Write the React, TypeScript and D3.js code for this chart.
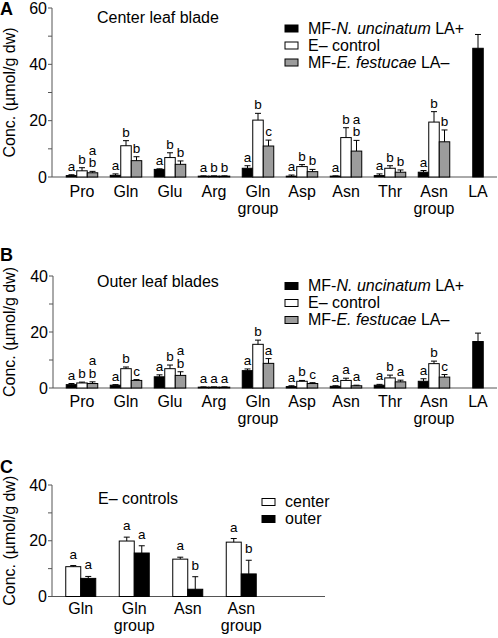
import React from "react";
import * as d3 from "d3";

const FONT = "'Liberation Sans', Arial, Helvetica, sans-serif";
const GRAY = "#9c9c9c";
const AXIS = "#555";

// ---------- data ----------
const aminoCategories = ["Pro", "Gln", "Glu", "Arg", "Gln group", "Asp", "Asn", "Thr", "Asn group", "LA"];
const legendLabels = ["MF-N. uncinatum LA+", "E– control", "MF-E. festucae LA–"];

// Panel A – center leaf blade
const aNunc = [0.5, 0.6, 2.7, 0.3, 3.1, 0.3, 0.3, 0.5, 1.7, 45.7];
const aNuncErr = [0.3, 0.5, 0.2, 0.1, 0.9, 0.4, 0.1, 0.6, 0.6, 4.9];
const aCtrl = [2.2, 11.1, 6.9, 0.3, 20.2, 3.7, 14.0, 3.1, 19.5, null];
const aCtrlErr = [1.1, 1.8, 1.7, 0.1, 2.4, 0.7, 3.5, 0.9, 3.7, null];
const aFest = [1.5, 5.8, 4.5, 0.3, 11.0, 1.9, 9.2, 1.7, 12.5, null];
const aFestErr = [0.5, 1.4, 1.2, 0.1, 2.1, 0.8, 3.8, 0.8, 4.2, null];
const aNuncLetters = ["a", "a", "a", "a", "a", "a", "a", "a", "a", ""];
const aCtrlLetters = ["b", "b", "b", "b", "b", "b", "b", "b", "b", ""];
const aFestLetters = ["a b", "b", "b", "b", "c", "b", "a b", "b", "b", ""];

// Panel B – outer leaf blades
const bNunc = [1.2, 1.0, 4.0, 0.3, 6.2, 0.5, 0.6, 1.0, 2.4, 16.6];
const bNuncErr = [0.4, 0.2, 0.7, 0.1, 0.6, 0.3, 0.2, 0.3, 0.9, 3.0];
const bCtrl = [1.8, 6.9, 6.9, 0.3, 15.6, 2.4, 2.7, 3.6, 8.7, null];
const bCtrlErr = [0.3, 0.6, 1.3, 0.1, 1.5, 0.3, 0.8, 1.0, 0.9, null];
const bFest = [1.6, 2.7, 4.5, 0.3, 8.8, 1.6, 0.8, 2.2, 3.9, null];
const bFestErr = [0.6, 0.3, 1.3, 0.1, 1.7, 0.3, 0.2, 0.6, 0.9, null];
const bNuncLetters = ["a", "a", "a", "a", "a", "a", "a", "a", "a", ""];
const bCtrlLetters = ["b", "b", "b", "a", "b", "b", "a", "b", "b", ""];
const bFestLetters = ["a b", "c", "a b", "a", "a", "c", "a", "a", "c", ""];

// Panel C – E– controls
const cCategories = ["Gln", "Gln group", "Asn", "Asn group"];
const cLegend = ["center", "outer"];
const cCenter = [10.7, 19.9, 13.4, 19.5];
const cCenterErr = [0.4, 1.4, 0.7, 1.3];
const cOuter = [6.5, 15.6, 2.6, 8.1];
const cOuterErr = [0.7, 2.6, 4.5, 4.9];
const cCenterLetters = ["a", "a", "a", "a"];
const cOuterLetters = ["a", "a", "b", "b"];

const yLabel = "Conc. (µmol/g dw)";

type Series = {
  values: (number | null)[];
  errs: (number | null)[];
  letters: string[];
  fill: string;
};

type PanelProps = {
  letter: string;
  letterY: number;
  yTop: number;
  yBottom: number;
  yMax: number;
  majorStep: number;
  minorStep: number;
  axisX: number;
  axisEnd: number;
  xRange: [number, number];
  categories: string[];
  series: Series[];
  barW: number;
  letterGap: number;
  catGap: number;
  title: string;
  titleX: number;
  titleY: number;
  legendItems: { label: React.ReactNode; fill: string }[];
  legendX: number;
  legendY: number;
  legendStep: number;
};

function LegendLabel({ text }: { text: string }) {
  const m = text.match(/^(MF-)(N\. uncinatum|E\. festucae)( .*)$/);
  if (!m) return <>{text}</>;
  return (
    <>
      {m[1]}
      <tspan fontStyle="italic">{m[2]}</tspan>
      {m[3]}
    </>
  );
}

function Panel(p: PanelProps) {
  const y = d3.scaleLinear().domain([0, p.yMax]).range([p.yBottom, p.yTop]);
  const x = d3.scaleBand<string>().domain(p.categories).range(p.xRange).paddingInner(0).paddingOuter(0);
  const majors = d3.range(0, p.yMax + 0.001, p.majorStep);
  const minors = d3.range(0, p.yMax + 0.001, p.minorStep);

  const bars: React.ReactNode[] = [];
  p.categories.forEach((cat, ci) => {
    const present = p.series
      .map((s, si) => ({ s, si }))
      .filter(({ s }) => s.values[ci] !== null && s.values[ci] !== undefined);
    const center = (x(cat) ?? 0) + x.bandwidth() / 2;
    present.forEach(({ s, si }, k) => {
      const v = s.values[ci] as number;
      const e = (s.errs[ci] ?? 0) as number;
      const bx = center + (k - present.length / 2) * p.barW;
      const top = y(v);
      const errTop = y(v + e);
      const cx = bx + p.barW / 2;
      bars.push(
        <rect key={`b${ci}-${si}`} x={bx} y={top} width={p.barW} height={Math.max(0.8, p.yBottom - top)}
          fill={s.fill} stroke="#000" strokeWidth={1} />
      );
      if (e > 0) {
        bars.push(
          <g key={`e${ci}-${si}`} stroke="#000" strokeWidth={1}>
            <line x1={cx} x2={cx} y1={top} y2={errTop} />
            <line x1={cx - 3} x2={cx + 3} y1={errTop} y2={errTop} />
          </g>
        );
      }
      const lines = (s.letters[ci] || "").split(" ").filter((t) => t.length);
      if (lines.length) {
        const base = Math.min(errTop, top) - p.letterGap - (lines.length - 1) * 12.5;
        bars.push(
          <text key={`l${ci}-${si}`} x={cx} y={base} textAnchor="middle" fontSize={13.5} fontFamily={FONT}>
            {lines.map((t, li) => (
              <tspan key={li} x={cx} dy={li === 0 ? 0 : 12.5}>{t}</tspan>
            ))}
          </text>
        );
      }
    });
  });

  const yMid = (p.yTop + p.yBottom) / 2;

  return (
    <g>
      <text x={0} y={p.letterY} fontSize={18} fontWeight="bold" fontFamily={FONT}>{p.letter}</text>
      <text transform={`translate(15,${yMid}) rotate(-90)`} textAnchor="middle" fontSize={16} fontFamily={FONT}>
        {yLabel}
      </text>
      <line x1={p.axisX} x2={p.axisX} y1={p.yTop} y2={p.yBottom} stroke={AXIS} strokeWidth={1} />
      <line x1={p.axisX} x2={p.axisEnd} y1={p.yBottom} y2={p.yBottom} stroke={AXIS} strokeWidth={1} />
      {minors.map((t) => (
        <line key={`t${t}`} x1={p.axisX - 4} x2={p.axisX} y1={y(t)} y2={y(t)} stroke={AXIS} strokeWidth={1} />
      ))}
      {majors.map((t) => (
        <text key={`tl${t}`} x={p.axisX - 5} y={y(t)} dy="0.35em" textAnchor="end" fontSize={16} fontFamily={FONT}>
          {t}
        </text>
      ))}
      {bars}
      {p.categories.map((cat) => {
        const cx = (x(cat) ?? 0) + x.bandwidth() / 2;
        const parts = cat.split(" ");
        return (
          <text key={`c${cat}`} x={cx} y={p.yBottom + p.catGap} textAnchor="middle" fontSize={16} fontFamily={FONT}>
            {parts.map((pt, i) => (
              <tspan key={i} x={cx} dy={i === 0 ? 0 : 17}>{pt}</tspan>
            ))}
          </text>
        );
      })}
      <text x={p.titleX} y={p.titleY} fontSize={16} fontFamily={FONT}>{p.title}</text>
      {p.legendItems.map((it, i) => (
        <g key={`lg${i}`}>
          <rect x={p.legendX} y={p.legendY + i * p.legendStep - 3.5} width={13} height={7} fill={it.fill}
            stroke="#000" strokeWidth={1} />
          <text x={p.legendX + 23} y={p.legendY + i * p.legendStep + 5} fontSize={16} fontFamily={FONT}>
            {it.label}
          </text>
        </g>
      ))}
    </g>
  );
}

export default function App() {
  const threeLegend = [
    { label: <LegendLabel text={legendLabels[0]} />, fill: "#000" },
    { label: <LegendLabel text={legendLabels[1]} />, fill: "#fff" },
    { label: <LegendLabel text={legendLabels[2]} />, fill: GRAY },
  ];
  return (
    <svg width={498} height={638} style={{ position: "absolute", left: 0, top: 0, background: "#fff" }}>
      <rect width={498} height={638} fill="#fff" />
      <Panel
        letter="A" letterY={15}
        yTop={8} yBottom={177} yMax={60} majorStep={20} minorStep={10}
        axisX={52} axisEnd={497} xRange={[60, 500]}
        categories={aminoCategories}
        series={[
          { values: aNunc, errs: aNuncErr, letters: aNuncLetters, fill: "#000" },
          { values: aCtrl, errs: aCtrlErr, letters: aCtrlLetters, fill: "#fff" },
          { values: aFest, errs: aFestErr, letters: aFestLetters, fill: GRAY },
        ]}
        barW={10.5} letterGap={4} catGap={20}
        title="Center leaf blade" titleX={97} titleY={23}
        legendItems={threeLegend} legendX={285} legendY={28.5} legendStep={17}
      />
      <Panel
        letter="B" letterY={261}
        yTop={276} yBottom={388} yMax={40} majorStep={20} minorStep={10}
        axisX={53} axisEnd={497} xRange={[60, 500]}
        categories={aminoCategories}
        series={[
          { values: bNunc, errs: bNuncErr, letters: bNuncLetters, fill: "#000" },
          { values: bCtrl, errs: bCtrlErr, letters: bCtrlLetters, fill: "#fff" },
          { values: bFest, errs: bFestErr, letters: bFestLetters, fill: GRAY },
        ]}
        barW={10.5} letterGap={4} catGap={18.5}
        title="Outer leaf blades" titleX={97} titleY={287}
        legendItems={threeLegend} legendX={285} legendY={286} legendStep={17}
      />
      <Panel
        letter="C" letterY={473}
        yTop={485} yBottom={596.5} yMax={40} majorStep={20} minorStep={10}
        axisX={52} axisEnd={325} xRange={[54, 268]}
        categories={cCategories}
        series={[
          { values: cCenter, errs: cCenterErr, letters: cCenterLetters, fill: "#fff" },
          { values: cOuter, errs: cOuterErr, letters: cOuterLetters, fill: "#000" },
        ]}
        barW={15} letterGap={7} catGap={17}
        title="E– controls" titleX={98} titleY={504}
        legendItems={[
          { label: cLegend[0], fill: "#fff" },
          { label: cLegend[1], fill: "#000" },
        ]}
        legendX={262} legendY={502} legendStep={17}
      />
    </svg>
  );
}
